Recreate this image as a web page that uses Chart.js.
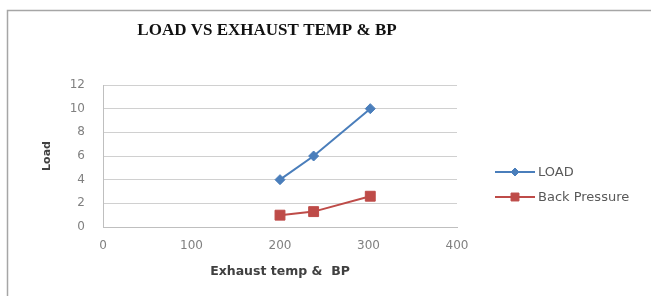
<!DOCTYPE html>
<html>
<head>
<meta charset="utf-8">
<script src="https://cdn.jsdelivr.net/npm/chart.js@4/dist/chart.umd.min.js"></script>
<style>
  html, body { margin: 0; padding: 0; background: #fff; }
  #wrap { width: 651px; height: 296px; position: relative; }
</style>
</head>
<body>
<div id="wrap"><canvas id="c" width="651" height="296"></canvas></div>
<script>
const chartTitle = 'LOAD VS EXHAUST TEMP & BP';
const xAxisTitle = 'Exhaust temp &  BP';
const yAxisTitle = 'Load';
const seriesNames = ['LOAD', 'Back Pressure'];
const exhaustTemp = [200, 238, 302];
const loadValues = [4, 6, 10];
const backPressure = [1.0, 1.3, 2.6];
const xTickRange = [0, 400, 100];
const yTickRange = [0, 12, 2];

const blue = '#4A7EBB';
const red = '#BE4B48';

function toPoints(xs, ys) { return xs.map((x, i) => ({ x: x, y: ys[i] })); }

const framePlugin = {
  id: 'frame',
  beforeDraw(chart) {
    const ctx = chart.ctx;
    ctx.save();
    ctx.fillStyle = '#fff';
    ctx.fillRect(0, 0, chart.width, chart.height);
    ctx.strokeStyle = '#A6A6A6';
    ctx.lineWidth = 1.5;
    ctx.strokeRect(7.5, 10.5, 700, 400);
    ctx.restore();
  },
  afterDraw(chart) {
    const ctx = chart.ctx;
    ctx.save();
    ctx.fillStyle = '#111';
    ctx.font = "bold 17px 'Liberation Serif'";
    ctx.textAlign = 'center';
    ctx.textBaseline = 'middle';
    ctx.fillText(chartTitle, 267, 31);
    const lx = 495, ly = 172, gap = 25;
    chart.data.datasets.forEach((ds, i) => {
      const y = ly + i * gap;
      ctx.strokeStyle = ds.borderColor;
      ctx.lineWidth = 2;
      ctx.beginPath();
      ctx.moveTo(lx, y);
      ctx.lineTo(lx + 40, y);
      ctx.stroke();
      ctx.fillStyle = ds.backgroundColor;
      ctx.strokeStyle = ds.borderColor;
      ctx.lineWidth = 1;
      Chart.helpers.drawPoint(ctx, {
        pointStyle: ds.pointStyle,
        radius: ds.pointRadius * 0.8,
        rotation: 0,
        borderWidth: 1
      }, lx + 20, y);
      ctx.fillStyle = '#595959';
      ctx.font = "13px 'DejaVu Sans'";
      ctx.textAlign = 'left';
      ctx.textBaseline = 'middle';
      ctx.fillText(ds.label, lx + 43, y + 1);
    });
    ctx.restore();
  }
};

const chart = new Chart(document.getElementById('c'), {
  type: 'scatter',
  data: {
    datasets: [
      {
        label: seriesNames[0],
        data: toPoints(exhaustTemp, loadValues),
        showLine: true,
        borderColor: blue,
        backgroundColor: blue,
        borderWidth: 2,
        pointStyle: 'rectRot',
        pointRadius: 5,
        pointHoverRadius: 5,
        pointBorderWidth: 1,
        tension: 0
      },
      {
        label: seriesNames[1],
        data: toPoints(exhaustTemp, backPressure),
        showLine: true,
        borderColor: red,
        backgroundColor: red,
        borderWidth: 2,
        pointStyle: 'rect',
        pointRadius: 7,
        pointHoverRadius: 7,
        pointBorderWidth: 1,
        tension: 0
      }
    ]
  },
  options: {
    responsive: false,
    animation: false,
    devicePixelRatio: 1,
    layout: { padding: { left: 41, top: 85, right: 194, bottom: 13 } },
    plugins: {
      legend: { display: false },
      title: { display: false },
      tooltip: { enabled: false }
    },
    scales: {
      x: {
        type: 'linear',
        min: xTickRange[0],
        max: xTickRange[1],
        afterFit(scale) { scale.height = 56; },
        ticks: {
          stepSize: xTickRange[2],
          padding: 12,
          color: '#808080',
          font: { family: 'DejaVu Sans', size: 12 }
        },
        grid: { display: false, drawTicks: false },
        border: { display: true, color: '#BFBFBF', width: 1 },
        title: {
          display: true,
          text: xAxisTitle,
          color: '#404040',
          font: { family: 'DejaVu Sans', size: 12.5, weight: 'bold' },
          padding: { top: 0, bottom: 4 }
        }
      },
      y: {
        type: 'linear',
        min: yTickRange[0],
        max: yTickRange[1],
        afterFit(scale) { scale.width = 62; },
        ticks: {
          stepSize: yTickRange[2],
          padding: 18,
          color: '#808080',
          font: { family: 'DejaVu Sans', size: 12 }
        },
        grid: { color: '#D0D0D0', lineWidth: 1, drawTicks: false },
        border: { display: true, color: '#BFBFBF', width: 1 },
        title: {
          display: true,
          text: yAxisTitle,
          color: '#404040',
          font: { family: 'DejaVu Sans', size: 11, weight: 'bold' },
          padding: { top: 0, bottom: 0 }
        }
      }
    }
  },
  plugins: [framePlugin]
});
</script>
</body>
</html>
